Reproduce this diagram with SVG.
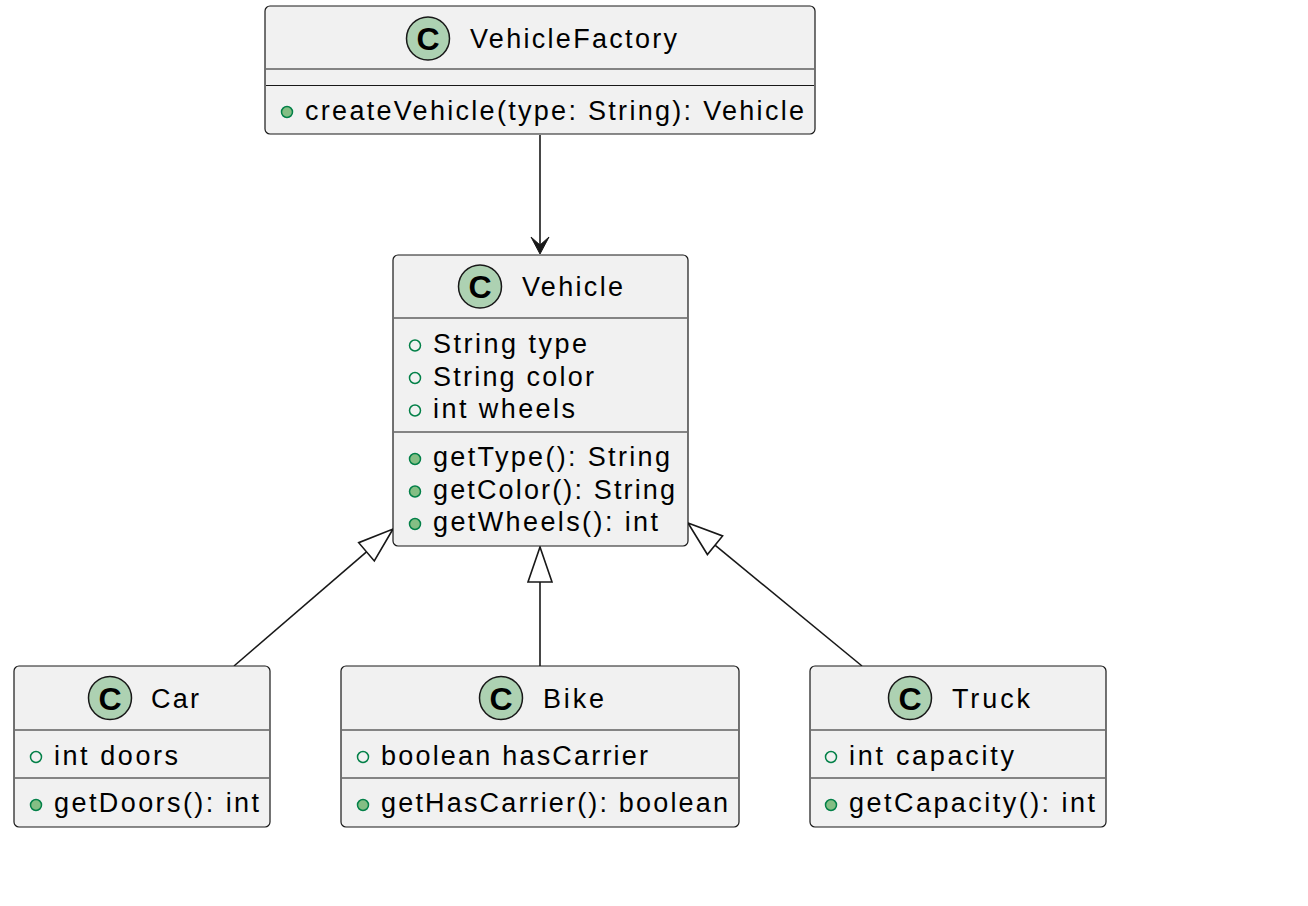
<svg xmlns="http://www.w3.org/2000/svg" width="1308" height="906" viewBox="0 0 1308 906">
<style>
.box{fill:#F1F1F1;stroke:#181818;stroke-width:1.2}
.sep{stroke:#181818;stroke-width:1.2}
.ci{fill:#ADD1B2;stroke:#181818;stroke-width:1.5}
.cl{font-family:"Liberation Sans Narrow","Liberation Sans",Arial,sans-serif;font-weight:bold;font-size:32px;fill:#000;text-anchor:middle}
.t{font-family:"Liberation Sans",Arial,sans-serif;font-size:27px;fill:#000}
.fa{fill:none;stroke:#038048;stroke-width:1.5}
.fm{fill:#84BE84;stroke:#038048;stroke-width:1.5}
.ln{fill:none;stroke:#181818;stroke-width:1.6}
.tri{fill:none;stroke:#181818;stroke-width:1.6}
</style>
<rect width="1308" height="906" fill="#FFFFFF"/>
<g id="connectors">
<line class="ln" x1="540" y1="135" x2="540" y2="247"/>
<polygon points="540,254 531,237 540,245 549,237" fill="#181818" stroke="#181818" stroke-width="1"/>
<line class="ln" x1="234" y1="666" x2="366.5" y2="551.8"/>
<polygon class="tri" points="393,529 374.3,560.9 358.7,542.7"/>
<line class="ln" x1="540" y1="666" x2="540" y2="582"/>
<polygon class="tri" points="540,547 528,582 552,582"/>
<line class="ln" x1="862" y1="666" x2="715" y2="545.2"/>
<polygon class="tri" points="688,523 722.6,535.9 707.4,554.5"/>
</g>
<g id="VehicleFactory">
<rect class="box" x="265" y="6" width="550" height="128" rx="5"/>
<circle class="ci" cx="428" cy="38.5" r="21.5"/>
<text class="cl" x="428" y="50">C</text>
<text class="t" x="470" y="48" textLength="207" lengthAdjust="spacing">VehicleFactory</text>
<line class="sep" x1="266" y1="69" x2="814" y2="69"/>
<line class="sep" x1="266" y1="85.5" x2="814" y2="85.5"/>
<circle class="fm" cx="287" cy="112" r="5.5"/>
<text class="t" x="305" y="119.5" textLength="499" lengthAdjust="spacing">createVehicle(type: String): Vehicle</text>
</g>
<g id="Vehicle">
<rect class="box" x="393" y="255" width="295" height="291" rx="5"/>
<circle class="ci" cx="480" cy="286.5" r="21.5"/>
<text class="cl" x="480" y="298">C</text>
<text class="t" x="522" y="296" textLength="101" lengthAdjust="spacing">Vehicle</text>
<line class="sep" x1="394" y1="318" x2="687" y2="318"/>
<circle class="fa" cx="415" cy="345.5" r="5.5"/>
<text class="t" x="433" y="353" textLength="154" lengthAdjust="spacing">String type</text>
<circle class="fa" cx="415" cy="378" r="5.5"/>
<text class="t" x="433" y="385.5" textLength="161" lengthAdjust="spacing">String color</text>
<circle class="fa" cx="415" cy="410.5" r="5.5"/>
<text class="t" x="433" y="418" textLength="142" lengthAdjust="spacing">int wheels</text>
<line class="sep" x1="394" y1="432" x2="687" y2="432"/>
<circle class="fm" cx="415" cy="459" r="5.5"/>
<text class="t" x="433" y="466" textLength="237" lengthAdjust="spacing">getType(): String</text>
<circle class="fm" cx="415" cy="491.5" r="5.5"/>
<text class="t" x="433" y="498.5" textLength="242" lengthAdjust="spacing">getColor(): String</text>
<circle class="fm" cx="415" cy="524" r="5.5"/>
<text class="t" x="433" y="531" textLength="225" lengthAdjust="spacing">getWheels(): int</text>
</g>
<g id="Car">
<rect class="box" x="14" y="666" width="256" height="161" rx="5"/>
<circle class="ci" cx="110" cy="698" r="21.5"/>
<text class="cl" x="110" y="709.5">C</text>
<text class="t" x="151" y="707.5" textLength="48" lengthAdjust="spacing">Car</text>
<line class="sep" x1="15" y1="730" x2="269" y2="730"/>
<circle class="fa" cx="36" cy="757" r="5.5"/>
<text class="t" x="54" y="764.5" textLength="124" lengthAdjust="spacing">int doors</text>
<line class="sep" x1="15" y1="778" x2="269" y2="778"/>
<circle class="fm" cx="36" cy="805" r="5.5"/>
<text class="t" x="54" y="812" textLength="205" lengthAdjust="spacing">getDoors(): int</text>
</g>
<g id="Bike">
<rect class="box" x="341" y="666" width="398" height="161" rx="5"/>
<circle class="ci" cx="501" cy="698" r="21.5"/>
<text class="cl" x="501" y="709.5">C</text>
<text class="t" x="543" y="707.5" textLength="61" lengthAdjust="spacing">Bike</text>
<line class="sep" x1="342" y1="730" x2="738" y2="730"/>
<circle class="fa" cx="363" cy="757" r="5.5"/>
<text class="t" x="381" y="764.5" textLength="267" lengthAdjust="spacing">boolean hasCarrier</text>
<line class="sep" x1="342" y1="778" x2="738" y2="778"/>
<circle class="fm" cx="363" cy="805" r="5.5"/>
<text class="t" x="381" y="812" textLength="347" lengthAdjust="spacing">getHasCarrier(): boolean</text>
</g>
<g id="Truck">
<rect class="box" x="810" y="666" width="296" height="161" rx="5"/>
<circle class="ci" cx="910" cy="698" r="21.5"/>
<text class="cl" x="910" y="709.5">C</text>
<text class="t" x="952" y="707.5" textLength="78" lengthAdjust="spacing">Truck</text>
<line class="sep" x1="811" y1="730" x2="1105" y2="730"/>
<circle class="fa" cx="831" cy="757" r="5.5"/>
<text class="t" x="849" y="764.5" textLength="165" lengthAdjust="spacing">int capacity</text>
<line class="sep" x1="811" y1="778" x2="1105" y2="778"/>
<circle class="fm" cx="831" cy="805" r="5.5"/>
<text class="t" x="849" y="812" textLength="246" lengthAdjust="spacing">getCapacity(): int</text>
</g>
</svg>
